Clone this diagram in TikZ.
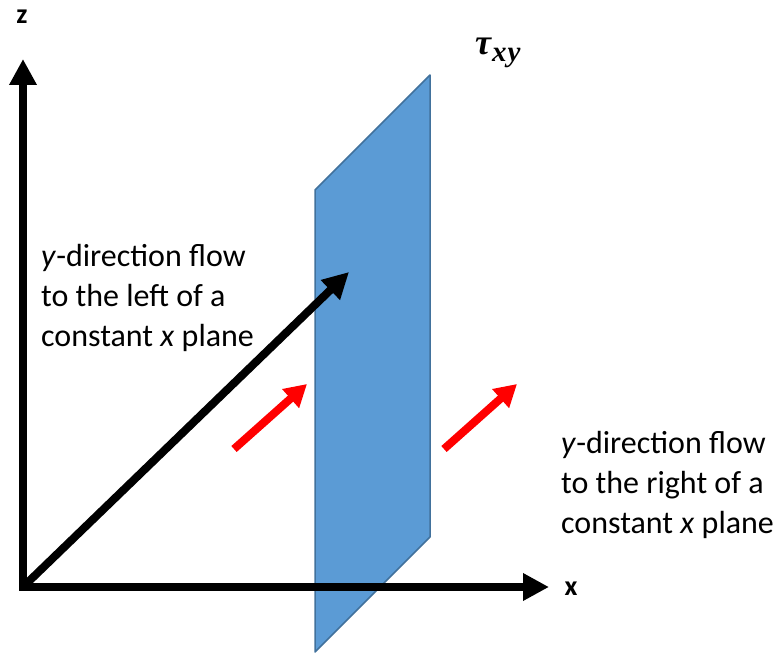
\documentclass[tikz,border=0pt]{standalone}
\usepackage{fontspec}
\setmainfont{Carlito}
\newfontfamily\taufont{Liberation Serif}
\usetikzlibrary{arrows.meta}
\definecolor{planefill}{HTML}{5B9BD5}
\definecolor{planeedge}{HTML}{41719C}
\begin{document}
\begin{tikzpicture}[x=1pt,y=-1pt,
  axisline/.style={line width=8pt, black, line join=miter},
  redflow/.style={line width=8pt, red, -{Triangle[length=22pt,width=24pt]}},
  lbl/.style={inner sep=0pt, align=left, font=\fontsize{32}{40}\selectfont},
  axlbl/.style={inner sep=0pt, font=\fontsize{28}{30}\selectfont\bfseries}]
\useasboundingbox (0,0) rectangle (782,655);
% plane
\coordinate (p1) at (315,190);
\coordinate (p2) at (430,75);
\coordinate (p3) at (430,537);
\coordinate (p4) at (315,652);
\fill[planefill] (p1) -- (p2) -- (p3) -- (p4) -- cycle;
\draw[planeedge, line width=1.5pt, line join=round] (p1) -- (p2) -- (p3) -- (p4) -- cycle;
% axes
\coordinate (O) at (23,587);
\coordinate (ztip) at (23,59);
\coordinate (xtip) at (549,587);
\coordinate (dtip) at (349,272);
\draw[axisline, {Triangle[length=26pt,width=26pt]}-{Triangle[length=26pt,width=26pt]}] (ztip) -- (O) -- (xtip);
\draw[axisline, -{Triangle[length=26pt,width=26pt]}] (O) -- (dtip);
% red arrows
\coordinate (r1a) at (234,449);
\coordinate (r1b) at (307,384);
\coordinate (r2a) at (444,449);
\coordinate (r2b) at (517,384);
\draw[redflow] (r1a) -- (r1b);
\draw[redflow] (r2a) -- (r2b);
% labels
\node[axlbl] (zl) at (22,17) {z};
\node[axlbl] (xl) at (571,589) {x};
\node[inner sep=0pt, anchor=base west] (tau) at (475,55) {\taufont\bfseries\itshape\fontsize{36}{38}\selectfont τ\kern1pt\raisebox{-7pt}{\fontsize{29}{31}\selectfont x\kern1pt y}};
\node[lbl, anchor=west] (left) at (41,298) {\textit{y}-direction flow\\to the left of a\\constant \textit{x} plane};
\node[lbl, anchor=west] (right) at (561,485) {\textit{y}-direction flow\\to the right of a\\constant \textit{x} plane};
\end{tikzpicture}
\end{document}
